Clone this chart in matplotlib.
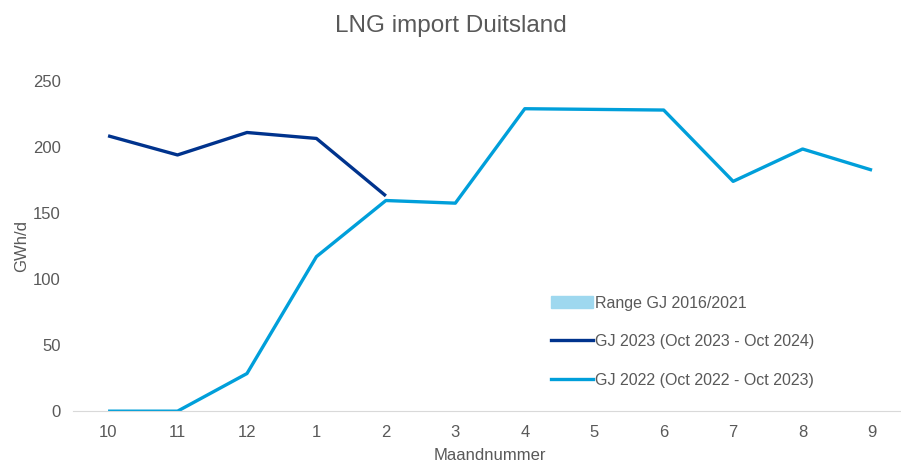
import matplotlib
matplotlib.use("Agg")
import matplotlib.pyplot as plt
from matplotlib.patches import Patch

plt.rcParams.update({"font.family": ["Liberation Sans", "DejaVu Sans"], "font.size": 12})

months = ["10", "11", "12", "1", "2", "3", "4", "5", "6", "7", "8", "9"]
gj2023 = [208.5, 194, 211, 206.5, 163]
gj2022 = [0, 0, 28.5, 117, 159.5, 157.5, 229, 228.5, 228, 174, 198.5, 182.5]

GREY = "#595959"
DARK, LIGHT, RANGE = "#00338D", "#009FDA", "#9ED8EF"

fig = plt.figure(figsize=(9.01, 4.62), dpi=100)
ax = fig.add_axes([0.0814, 0.110, 0.925, 0.7147])

x = list(range(len(months)))
ax.plot(x[:len(gj2023)], gj2023, color=DARK, lw=2.4, solid_capstyle="butt")
ax.plot(x, gj2022, color=LIGHT, lw=2.4, solid_capstyle="butt")

ax.set_xlim(-0.5, len(months) - 0.5)
ax.set_ylim(0, 250)
ax.set_yticks([0, 50, 100, 150, 200, 250])
ax.set_xticks(x)
ax.set_xticklabels(months)
ax.tick_params(length=0, colors=GREY, labelsize=12)
ax.tick_params(axis="y", pad=9)
ax.tick_params(axis="x", pad=10)
for s in ["top", "right", "left"]:
    ax.spines[s].set_visible(False)
ax.spines["bottom"].set_color("#d9d9d9")

ax.set_xlabel("Maandnummer", color=GREY, fontsize=12, labelpad=6)
ax.set_ylabel("GWh/d", color=GREY, fontsize=12, labelpad=3)
fig.suptitle("LNG import Duitsland", color=GREY, fontsize=17.5, y=0.967)

handles = [Patch(color=RANGE),
           plt.Line2D([], [], color=DARK, lw=2.4),
           plt.Line2D([], [], color=LIGHT, lw=2.4)]
labels = ["Range GJ 2016/2021", "GJ 2023 (Oct 2023 - Oct 2024)", "GJ 2022 (Oct 2022 - Oct 2023)"]
leg = fig.legend(handles, labels, loc="upper left", bbox_to_anchor=(0.605, 0.374),
                 frameon=False, handlelength=2.6, handletextpad=0.1,
                 labelspacing=1.47, fontsize=11.5, borderaxespad=0)
for t in leg.get_texts():
    t.set_color(GREY)

fig.savefig("out.png", dpi=100)
